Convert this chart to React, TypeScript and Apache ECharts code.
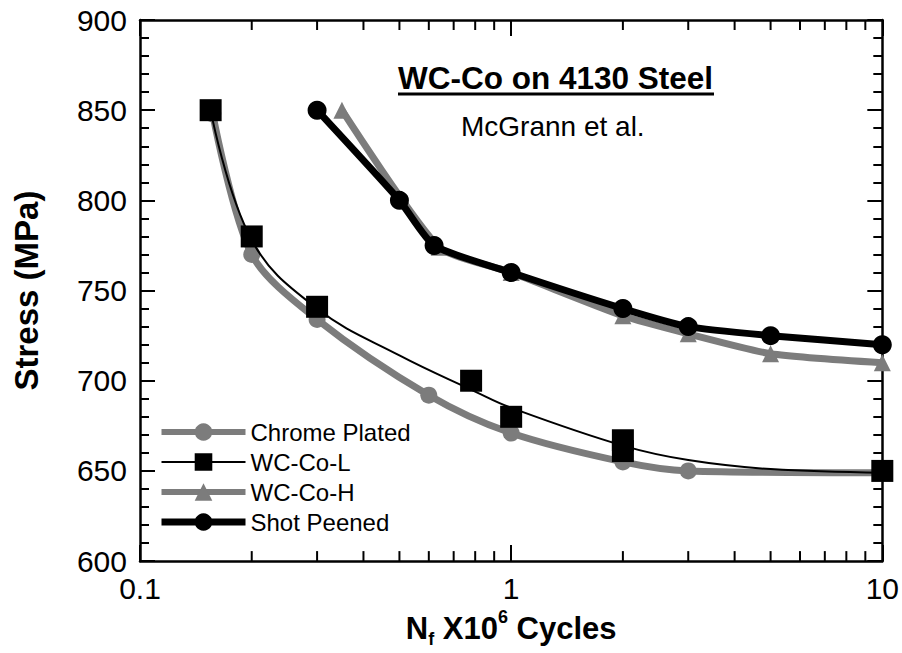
import React, { useEffect, useRef } from "react";
import * as echarts from "echarts";

const FONT = '"Liberation Sans", Arial, Helvetica, sans-serif';

// Chrome Plated
const chromeX = [0.157, 0.2, 0.3, 0.6, 1.0, 2.0, 3.0, 10];
const chromeY = [848, 770, 734, 692, 671, 655, 650, 649];
// WC-Co-L markers
const wcLX = [0.155, 0.2, 0.3, 0.78, 1.0, 2.0, 2.0, 10];
const wcLY = [850, 780, 741, 700, 680, 667, 661, 650];
// WC-Co-L fitted curve
const fitX = [0.155, 0.2, 0.3, 0.5, 0.8, 1, 2, 3, 5, 10];
const fitY = [850, 778, 740, 714, 694, 685, 664, 656, 651, 649];
// WC-Co-H
const wcHX = [0.35, 0.64, 1.0, 2.0, 3.0, 5.0, 10];
const wcHY = [850, 774, 760, 736, 726, 715, 710];
// Shot Peened
const shotX = [0.3, 0.5, 0.62, 1.0, 2.0, 3.0, 5.0, 10];
const shotY = [850, 800, 775, 760, 740, 730, 725, 720];
// minor log ticks
const minorTicks = [0.2, 0.3, 0.4, 0.5, 0.6, 0.7, 0.8, 0.9, 2, 3, 4, 5, 6, 7, 8, 9];

const GRAY = "#7c7c7c";

const zip = (xs: number[], ys: number[]) => xs.map((x, i) => [x, ys[i]]);

export default function App() {
  const ref = useRef<HTMLDivElement>(null);
  useEffect(() => {
    if (!ref.current) return;
    const chart = echarts.init(ref.current, null, { renderer: "svg" });
    const axisLine = { show: true, lineStyle: { color: "#000", width: 2.5 } };
    const xCommon: any = {
      type: "log",
      logBase: 10,
      min: 0.1,
      max: 10,
      axisLine,
      axisTick: { show: true, inside: true, length: 16, lineStyle: { color: "#000", width: 2 } },
      splitLine: { show: false },
    };
    const yCommon: any = {
      type: "value",
      min: 600,
      max: 900,
      interval: 50,
      axisLine,
      axisTick: { show: true, inside: true, length: 15, lineStyle: { color: "#000", width: 2 } },
      minorTick: { show: true, splitNumber: 5, length: 9, lineStyle: { color: "#000", width: 2 } },
      splitLine: { show: false },
      minorSplitLine: { show: false },
    };
    chart.setOption({
      animation: false,
      backgroundColor: "#fff",
      grid: { left: 140, top: 20, right: 17, bottom: 86, containLabel: false },
      xAxis: [
        {
          ...xCommon,
          position: "bottom",
          axisLabel: {
            show: true,
            fontFamily: FONT,
            fontSize: 30,
            color: "#000",
            margin: 12,
            formatter: (v: number) => (v < 1 ? v.toFixed(1) : String(Math.round(v))),
          },
          name: "{b|N}{sub|f}{b| X10}{sup|6}{b| Cycles}",
          nameLocation: "middle",
          nameGap: 42,
          nameTextStyle: {
            color: "#000",
            fontFamily: FONT,
            rich: {
              b: { fontFamily: FONT, fontSize: 31, fontWeight: "bold", color: "#000", lineHeight: 40, verticalAlign: "middle" },
              sub: { fontFamily: FONT, fontSize: 18, fontWeight: "bold", color: "#000", lineHeight: 40, verticalAlign: "bottom" },
              sup: { fontFamily: FONT, fontSize: 18, fontWeight: "bold", color: "#000", lineHeight: 40, verticalAlign: "top" },
            },
          },
        },
        { ...xCommon, position: "top", axisLabel: { show: false } },
      ],
      yAxis: [
        {
          ...yCommon,
          position: "left",
          axisLabel: { show: true, fontFamily: FONT, fontSize: 30, color: "#000", margin: 13 },
          name: "Stress (MPa)",
          nameLocation: "middle",
          nameGap: 97,
          nameTextStyle: { fontFamily: FONT, fontSize: 33, fontWeight: "bold", color: "#000" },
        },
        { ...yCommon, position: "right", axisLabel: { show: false } },
      ],
      legend: {
        orient: "vertical",
        left: 158,
        top: 420,
        padding: 0,
        itemWidth: 84,
        itemHeight: 22,
        itemGap: 6,
        textStyle: { fontFamily: FONT, fontSize: 24, color: "#000" },
        data: [
          { name: "Chrome Plated", lineStyle: { width: 6, color: GRAY, opacity: 1 } },
          { name: "WC-Co-L", lineStyle: { width: 2, color: "#000", opacity: 1 } },
          { name: "WC-Co-H", lineStyle: { width: 6, color: GRAY, opacity: 1 } },
          { name: "Shot Peened", lineStyle: { width: 7, color: "#000", opacity: 1 } },
        ],
      },
      graphic: [
        {
          type: "text",
          left: 398,
          top: 62,
          style: { text: "WC-Co on 4130 Steel", fontFamily: FONT, fontSize: 31.5, fontWeight: "bold", fill: "#000" },
        },
        {
          type: "line",
          shape: { x1: 398, y1: 94, x2: 714, y2: 94 },
          style: { stroke: "#000", lineWidth: 3 },
        },
        {
          type: "text",
          left: 461,
          top: 112,
          style: { text: "McGrann et al.", fontFamily: FONT, fontSize: 28, fill: "#000" },
        },
      ],
      series: [
        {
          name: "Chrome Plated",
          type: "line",
          data: zip(chromeX, chromeY),
          smooth: 0.3,
          symbol: "circle",
          symbolSize: 17,
          clip: false,
          itemStyle: { color: GRAY },
          lineStyle: { color: GRAY, width: 7 },
          z: 2,
        },
        {
          name: "WC-Co-H",
          type: "line",
          data: zip(wcHX, wcHY),
          smooth: 0.2,
          symbol: "triangle",
          symbolSize: 17,
          clip: false,
          itemStyle: { color: GRAY },
          lineStyle: { color: GRAY, width: 7 },
          z: 2,
        },
        {
          name: "WC-Co-L fit",
          type: "line",
          data: zip(fitX, fitY),
          smooth: 0.4,
          showSymbol: false,
          symbol: "none",
          clip: false,
          lineStyle: { color: "#000", width: 2 },
          z: 3,
          silent: true,
        },
        {
          name: "WC-Co-L",
          type: "line",
          data: zip(wcLX, wcLY),
          symbol: "rect",
          symbolSize: 22,
          clip: false,
          itemStyle: { color: "#000" },
          lineStyle: { width: 0, opacity: 0 },
          z: 4,
        },
        {
          name: "Shot Peened",
          type: "line",
          data: zip(shotX, shotY),
          smooth: 0.2,
          symbol: "circle",
          symbolSize: 19,
          clip: false,
          itemStyle: { color: "#000" },
          lineStyle: { color: "#000", width: 7 },
          z: 5,
        },
        {
          name: "minor ticks",
          type: "custom",
          silent: true,
          clip: false,
          data: minorTicks.map((v) => [v, 700]),
          encode: { x: 0, y: 1 },
          renderItem: (params: any, api: any) => {
            const cs = params.coordSys;
            const x = api.coord([api.value(0), api.value(1)])[0];
            const top = cs.y;
            const bottom = cs.y + cs.height;
            return {
              type: "group",
              children: [
                { type: "line", shape: { x1: x, y1: bottom, x2: x, y2: bottom - 10 }, style: { stroke: "#000", lineWidth: 2 } },
                { type: "line", shape: { x1: x, y1: top, x2: x, y2: top + 10 }, style: { stroke: "#000", lineWidth: 2 } },
              ],
            };
          },
          z: 6,
        },
      ],
    });
    return () => chart.dispose();
  }, []);
  return (
    <div
      ref={ref}
      style={{ position: "fixed", left: 0, top: 0, width: 902, height: 653, background: "#fff" }}
    />
  );
}
